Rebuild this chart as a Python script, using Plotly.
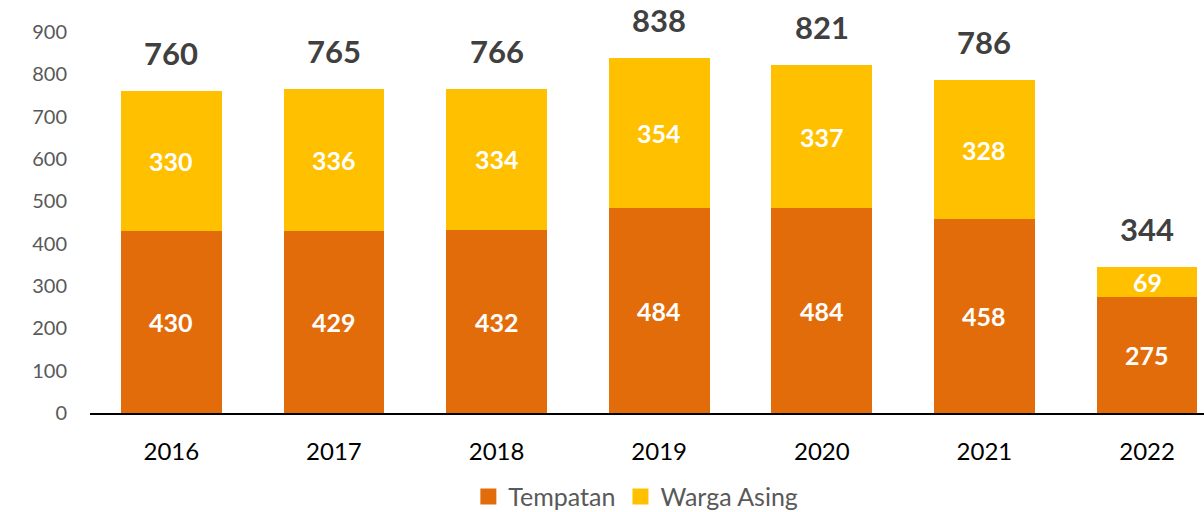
import plotly.graph_objects as go

years = ["2016", "2017", "2018", "2019", "2020", "2021", "2022"]
tempatan = [430, 429, 432, 484, 484, 458, 275]
warga_asing = [330, 336, 334, 354, 337, 328, 69]
totals = [760, 765, 766, 838, 821, 786, 344]

FONT = "Lato, 'Open Sans', sans-serif"
C_TEMP = "#E36C0A"
C_WARGA = "#FFC000"

fig = go.Figure()
fig.add_trace(go.Bar(
    x=years, y=tempatan, name="Tempatan", marker_color=C_TEMP,
    width=0.62, marker_line_width=0, showlegend=False,
))
fig.add_trace(go.Bar(
    x=years, y=warga_asing, name="Warga Asing", marker_color=C_WARGA,
    width=0.62, marker_line_width=0, showlegend=False,
))
# legend entries with larger square swatches
for name, col in [("Tempatan", C_TEMP), ("Warga Asing", C_WARGA)]:
    fig.add_trace(go.Scatter(x=[None], y=[None], mode="markers", name=name,
                             marker=dict(symbol="square", size=16, color=col)))

# segment labels (centred in each stacked segment)
for i, (a, b) in enumerate(zip(tempatan, warga_asing)):
    fig.add_annotation(x=i, y=a / 2, xref="x", yref="y", text=f"<b>{a}</b>",
                       showarrow=False, yanchor="middle",
                       font=dict(size=25, color="white", family=FONT))
    fig.add_annotation(x=i, y=a + b / 2, xref="x", yref="y", text=f"<b>{b}</b>",
                       showarrow=False, yanchor="middle",
                       font=dict(size=25, color="white", family=FONT))

# totals above bars
for i, t in enumerate(totals):
    fig.add_annotation(x=i, y=t, xref="x", yref="y", text=f"<b>{t}</b>", showarrow=False,
                       yshift=38, yanchor="middle", borderpad=0,
                       font=dict(size=31, color="#404040", family=FONT))

fig.update_layout(
    template="none",
    barmode="stack",
    width=1204, height=512,
    margin=dict(l=90, r=0, t=32, b=99, autoexpand=False),
    plot_bgcolor="white", paper_bgcolor="white",
    font=dict(family=FONT),
    legend=dict(orientation="h", x=0.49, xanchor="center", y=-0.22, yanchor="middle",
                font=dict(size=25, color="#595959", family=FONT), traceorder="normal",
                itemsizing="trace"),
    showlegend=True,
)
fig.update_xaxes(type="category", range=[-0.5, 6.35], showline=True, linecolor="black",
                 linewidth=2, ticks="", tickfont=dict(size=24, color="black", family=FONT),
                 ticklabelstandoff=16, showgrid=False, automargin=False)
fig.update_yaxes(range=[0, 900], dtick=100, showgrid=False, zeroline=False, showline=False,
                 ticks="", tickfont=dict(size=20, color="#595959", family=FONT),
                 ticklabelstandoff=22, automargin=False)

fig.write_html("out.html", config={"displayModeBar": False},
               post_script="document.body.style.margin='0';document.body.style.overflow='hidden';")
